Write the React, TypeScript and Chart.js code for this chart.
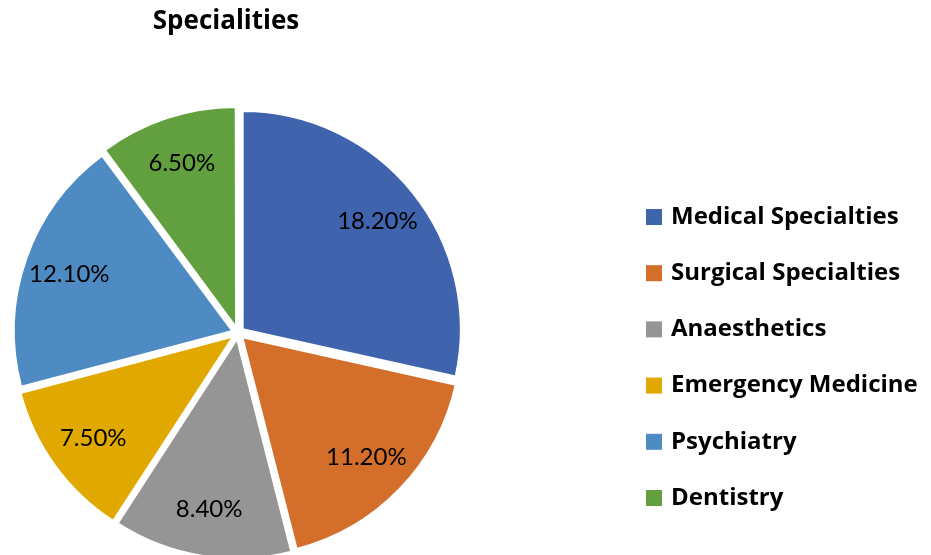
import React, { useEffect, useRef } from "react";
import { Chart, registerables } from "chart.js";

Chart.register(...registerables);

const categories = [
  "Medical Specialties",
  "Surgical Specialties",
  "Anaesthetics",
  "Emergency Medicine",
  "Psychiatry",
  "Dentistry",
];
const percentages = [18.2, 11.2, 8.4, 7.5, 12.1, 6.5];
const sliceColors = ["#3F64AD", "#D36E2B", "#959595", "#E1A800", "#4E8BC3", "#62A03F"];
const titleText = "Specialities";

const BOLD_FONT = "'Open Sans', 'Liberation Sans', Arial, sans-serif";
const LABEL_FONT = "Lato, 'Liberation Sans', Arial, sans-serif";

const titlePlugin = {
  id: "customTitle",
  afterDraw(chart: any) {
    const ctx = chart.ctx;
    ctx.save();
    ctx.font = `bold 26px ${BOLD_FONT}`;
    ctx.fillStyle = "#000";
    ctx.textAlign = "center";
    ctx.textBaseline = "middle";
    ctx.fillText(titleText, 226, 22);
    ctx.restore();
  },
};

const valueLabelPlugin = {
  id: "valueLabels",
  afterDatasetsDraw(chart: any) {
    const ctx = chart.ctx;
    const meta = chart.getDatasetMeta(0);
    const data = chart.data.datasets[0].data;
    ctx.save();
    ctx.font = `24px ${LABEL_FONT}`;
    ctx.fillStyle = "#000";
    ctx.textAlign = "center";
    ctx.textBaseline = "middle";
    meta.data.forEach((arc: any, i: number) => {
      const p = arc.getProps(["x", "y", "startAngle", "endAngle", "outerRadius"], true);
      const mid = (p.startAngle + p.endAngle) / 2;
      const r = p.outerRadius * 0.82;
      const x = p.x + Math.cos(mid) * r;
      const y = p.y + Math.sin(mid) * r;
      ctx.fillText(Number(data[i]).toFixed(2) + "%", x, y);
    });
    ctx.restore();
  },
};

const legendPlugin = {
  id: "customLegend",
  afterDraw(chart: any) {
    const ctx = chart.ctx;
    const labels = chart.data.labels as string[];
    const colors = chart.data.datasets[0].backgroundColor as string[];
    const x0 = 646;
    const y0 = 217;
    const step = 56.2;
    const box = 16;
    ctx.save();
    ctx.font = `bold 24px ${BOLD_FONT}`;
    ctx.textAlign = "left";
    ctx.textBaseline = "middle";
    labels.forEach((lab, i) => {
      const y = y0 + i * step;
      ctx.fillStyle = colors[i];
      ctx.fillRect(x0, y - box / 2, box, box);
      ctx.fillStyle = "#000";
      ctx.fillText(lab, x0 + 25, y);
    });
    ctx.restore();
  },
};

export default function App() {
  const ref = useRef<HTMLCanvasElement | null>(null);
  useEffect(() => {
    if (!ref.current) return;
    const chart = new Chart(ref.current, {
      type: "pie",
      data: {
        labels: categories,
        datasets: [
          {
            data: percentages,
            backgroundColor: sliceColors,
            borderColor: "#ffffff",
            borderWidth: 2,
            offset: 24,
            radius: 218,
          } as any,
        ],
      },
      options: {
        animation: false,
        responsive: false,
        maintainAspectRatio: false,
        layout: { padding: { left: 10, right: 465, top: 111, bottom: 0 } },
        plugins: {
          legend: { display: false },
          title: { display: false },
          tooltip: { enabled: false },
        },
      },
      plugins: [titlePlugin, valueLabelPlugin, legendPlugin],
    });
    return () => chart.destroy();
  }, []);
  return (
    <div style={{ position: "fixed", left: 0, top: 0, width: 931, height: 555, background: "#fff" }}>
      <canvas ref={ref} width={931} height={555} style={{ width: 931, height: 555 }} />
    </div>
  );
}
